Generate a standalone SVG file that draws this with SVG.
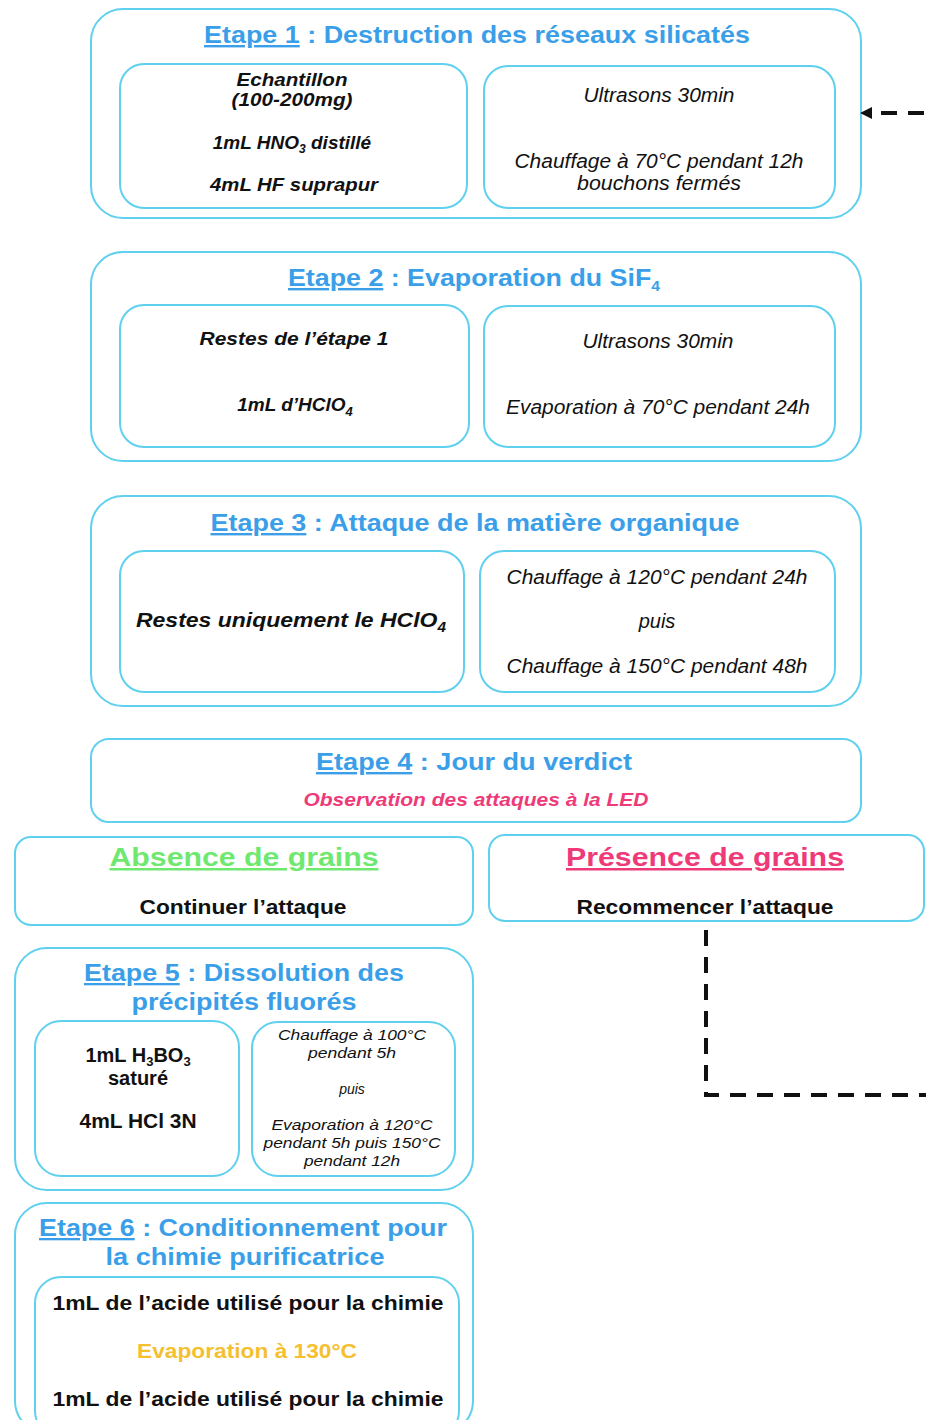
<svg xmlns="http://www.w3.org/2000/svg" width="926" height="1420" viewBox="0 0 926 1420">
<defs>
<style>
.box{fill:#fff;stroke:#5fd0ee;stroke-width:2}
.t{font-family:"Liberation Sans",Arial,sans-serif;font-weight:bold;fill:#3a9fe8;text-anchor:middle}
.bi{font-family:"Liberation Sans",Arial,sans-serif;font-weight:bold;font-style:italic;fill:#111;text-anchor:middle;font-size:19px}
.i{font-family:"Liberation Sans",Arial,sans-serif;font-style:italic;fill:#111;text-anchor:middle;font-size:20px}
.s{font-family:"Liberation Sans",Arial,sans-serif;font-style:italic;fill:#111;text-anchor:middle;font-size:14px}
.b{font-family:"Liberation Sans",Arial,sans-serif;font-weight:bold;fill:#111;text-anchor:middle}
.u{text-decoration:underline}
.conn{fill:none;stroke:#111;stroke-width:4;stroke-dasharray:16 11}
</style>
</defs>
<rect width="926" height="1420" fill="#fff"/>

<g id="etape1">
<rect class="box" x="91" y="9" width="770" height="209" rx="32"/>
<text class="t" x="477" y="43" font-size="24" textLength="546" lengthAdjust="spacingAndGlyphs"><tspan class="u">Etape 1</tspan> : Destruction des réseaux silicatés</text>
<rect class="box" x="120" y="64" width="347" height="144" rx="24"/>
<text class="bi" x="292" y="86" textLength="111" lengthAdjust="spacingAndGlyphs">Echantillon</text>
<text class="bi" x="292" y="106" textLength="121" lengthAdjust="spacingAndGlyphs">(100-200mg)</text>
<text class="bi" x="292" y="149">1mL HNO<tspan font-size="12" dy="4">3</tspan><tspan dy="-4"> distillé</tspan></text>
<text class="bi" x="294" y="191" textLength="168" lengthAdjust="spacingAndGlyphs">4mL HF suprapur</text>
<rect class="box" x="484" y="66" width="351" height="142" rx="24"/>
<text class="i" x="659" y="102" textLength="151" lengthAdjust="spacingAndGlyphs">Ultrasons 30min</text>
<text class="i" x="659" y="168" textLength="289" lengthAdjust="spacingAndGlyphs">Chauffage à 70°C pendant 12h</text>
<text class="i" x="659" y="190" textLength="164" lengthAdjust="spacingAndGlyphs">bouchons fermés</text>
</g>

<g id="etape2">
<rect class="box" x="91" y="252" width="770" height="209" rx="32"/>
<text class="t" x="474" y="286" font-size="24" textLength="372" lengthAdjust="spacingAndGlyphs"><tspan class="u">Etape 2</tspan> : Evaporation du SiF<tspan font-size="14" dy="5">4</tspan></text>
<rect class="box" x="120" y="305" width="349" height="142" rx="24"/>
<text class="bi" x="294" y="345" textLength="189" lengthAdjust="spacingAndGlyphs">Restes de l’étape 1</text>
<text class="bi" x="295" y="411">1mL d’HClO<tspan font-size="13" dy="5">4</tspan></text>
<rect class="box" x="484" y="306" width="351" height="141" rx="24"/>
<text class="i" x="658" y="348" textLength="151" lengthAdjust="spacingAndGlyphs">Ultrasons 30min</text>
<text class="i" x="658" y="414" textLength="304" lengthAdjust="spacingAndGlyphs">Evaporation à 70°C pendant 24h</text>
</g>

<g id="etape3">
<rect class="box" x="91" y="496" width="770" height="210" rx="32"/>
<text class="t" x="475" y="531" font-size="24" textLength="529" lengthAdjust="spacingAndGlyphs"><tspan class="u">Etape 3</tspan> : Attaque de la matière organique</text>
<rect class="box" x="120" y="551" width="344" height="141" rx="24"/>
<text class="bi" x="291" y="627" style="font-size:21px" textLength="310" lengthAdjust="spacingAndGlyphs">Restes uniquement le HClO<tspan font-size="14" dy="5">4</tspan></text>
<rect class="box" x="480" y="551" width="355" height="141" rx="24"/>
<text class="i" x="657" y="584" textLength="301" lengthAdjust="spacingAndGlyphs">Chauffage à 120°C pendant 24h</text>
<text class="i" x="657" y="628">puis</text>
<text class="i" x="657" y="673" textLength="301" lengthAdjust="spacingAndGlyphs">Chauffage à 150°C pendant 48h</text>
</g>

<g id="etape4">
<rect class="box" x="91" y="739" width="770" height="83" rx="18"/>
<text class="t" x="474" y="770" font-size="24" textLength="316" lengthAdjust="spacingAndGlyphs"><tspan class="u">Etape 4</tspan> : Jour du verdict</text>
<text x="476" y="806" font-family="Liberation Sans,Arial,sans-serif" font-weight="bold" font-style="italic" font-size="19" fill="#ee3a78" text-anchor="middle" textLength="345" lengthAdjust="spacingAndGlyphs">Observation des attaques à la LED</text>
</g>

<g id="absence">
<rect class="box" x="15" y="837" width="458" height="88" rx="16"/>
<text class="t u" x="244" y="866" font-size="25" style="fill:#6ee86e" textLength="269" lengthAdjust="spacingAndGlyphs">Absence de grains</text>
<text class="b" x="243" y="914" font-size="21" textLength="207" lengthAdjust="spacingAndGlyphs">Continuer l’attaque</text>
</g>

<g id="presence">
<rect class="box" x="489" y="835" width="435" height="86" rx="16"/>
<text class="t u" x="705" y="866" font-size="25" style="fill:#ee3a78" textLength="278" lengthAdjust="spacingAndGlyphs">Présence de grains</text>
<text class="b" x="705" y="914" font-size="21" textLength="257" lengthAdjust="spacingAndGlyphs">Recommencer l’attaque</text>
</g>

<g id="etape5">
<rect class="box" x="15" y="948" width="458" height="242" rx="32"/>
<text class="t" x="244" y="981" font-size="23" textLength="320" lengthAdjust="spacingAndGlyphs"><tspan class="u">Etape 5</tspan> : Dissolution des</text>
<text class="t" x="244" y="1010" font-size="23" textLength="225" lengthAdjust="spacingAndGlyphs">précipités fluorés</text>
<rect class="box" x="35" y="1021" width="204" height="155" rx="26"/>
<text class="b" x="138" y="1062" font-size="20">1mL H<tspan font-size="13" dy="4">3</tspan><tspan dy="-4">BO</tspan><tspan font-size="13" dy="4">3</tspan></text>
<text class="b" x="138" y="1085" font-size="20">saturé</text>
<text class="b" x="138" y="1128" font-size="20" textLength="117" lengthAdjust="spacingAndGlyphs">4mL HCl 3N</text>
<rect class="box" x="252" y="1022" width="203" height="154" rx="26"/>
<text class="s" x="352" y="1040" textLength="148" lengthAdjust="spacingAndGlyphs">Chauffage à 100°C</text>
<text class="s" x="352" y="1058" textLength="88" lengthAdjust="spacingAndGlyphs">pendant 5h</text>
<text class="s" x="352" y="1094">puis</text>
<text class="s" x="352" y="1130" textLength="161" lengthAdjust="spacingAndGlyphs">Evaporation à 120°C</text>
<text class="s" x="352" y="1148" textLength="177" lengthAdjust="spacingAndGlyphs">pendant 5h puis 150°C</text>
<text class="s" x="352" y="1166" textLength="96" lengthAdjust="spacingAndGlyphs">pendant 12h</text>
</g>

<g id="etape6">
<rect class="box" x="15" y="1203" width="458" height="230" rx="32"/>
<text class="t" x="243" y="1236" font-size="23" textLength="408" lengthAdjust="spacingAndGlyphs"><tspan class="u">Etape 6</tspan> : Conditionnement pour</text>
<text class="t" x="245" y="1265" font-size="23" textLength="279" lengthAdjust="spacingAndGlyphs">la chimie purificatrice</text>
<rect class="box" x="35" y="1277" width="424" height="160" rx="26"/>
<text class="b" x="248" y="1310" font-size="21" textLength="391" lengthAdjust="spacingAndGlyphs">1mL de l’acide utilisé pour la chimie</text>
<text class="b" x="247" y="1358" font-size="21" style="fill:#f5c030" textLength="220" lengthAdjust="spacingAndGlyphs">Evaporation à 130°C</text>
<text class="b" x="248" y="1406" font-size="21" textLength="391" lengthAdjust="spacingAndGlyphs">1mL de l’acide utilisé pour la chimie</text>
</g>

<g id="connectors">
<path class="conn" d="M706,930 V1095 H930 V113 H872"/>
<path d="M872,107 L860,113 L872,119 z" fill="#111"/>
</g>
</svg>
